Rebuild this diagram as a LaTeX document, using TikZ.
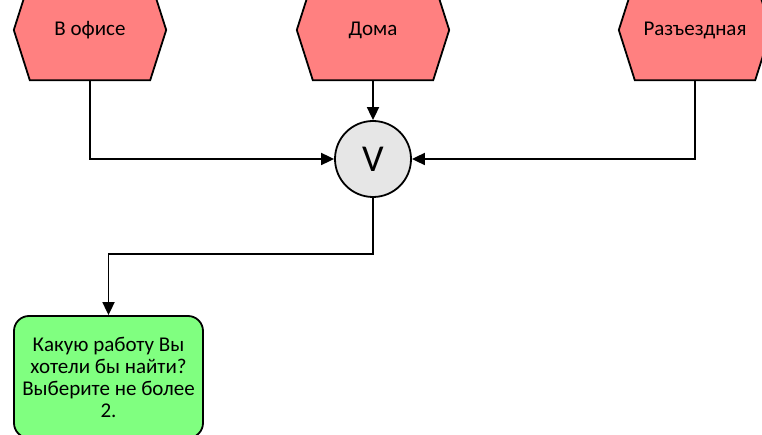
\documentclass[tikz,border=0pt]{standalone}
\usepackage{fontspec}
\setmainfont{Carlito}
\usetikzlibrary{arrows.meta,calc,backgrounds}
\definecolor{hexred}{RGB}{255,128,128}
\definecolor{opgray}{RGB}{230,230,230}
\definecolor{qgreen}{RGB}{128,255,128}
\newcommand{\hexoutline}[1]{%
  \begin{scope}[on background layer]
    \draw[hexline] (#1.north west) -- (#1.north east) -- ($(#1.east)+(16,0)$) --
      (#1.south east) -- (#1.south west) -- ($(#1.west)+(-16,0)$) -- cycle;
  \end{scope}}
\begin{document}
\begin{tikzpicture}[x=1pt,y=-1pt,
  hexbox/.style={rectangle,inner sep=0pt,minimum width=120pt,minimum height=100pt,
    font=\fontsize{21}{22}\selectfont},
  hexline/.style={draw=black,line width=1.8pt,fill=hexred,line join=miter},
  opnode/.style={circle,draw=black,line width=1.8pt,fill=opgray,minimum size=76pt,inner sep=0pt,
    font=\fontsize{38}{40}\selectfont},
  qbox/.style={rectangle,rounded corners=15pt,draw=black,line width=1.8pt,fill=qgreen,
    minimum width=189pt,minimum height=122pt,inner sep=0pt,align=center,
    font=\fontsize{21}{22}\selectfont},
  arr/.style={line width=1.8pt,-{Triangle[length=13pt,width=12pt]}}]
\useasboundingbox (0,0) rectangle (762,435);
\clip (0,0) rectangle (762,435);
\node[hexbox] (h1) at (90,30) {\raisebox{-1pt}{В офисе}};
\hexoutline{h1}
\node[hexbox] (h2) at (373,30) {\raisebox{-1pt}{Дома}};
\hexoutline{h2}
\node[hexbox] (h3) at (695,30) {\raisebox{-1pt}{Разъездная}};
\hexoutline{h3}
\node[opnode] (v) at (373,159) {V};
\node[qbox] (q) at (108.5,377) {Какую работу Вы\\хотели бы найти?\\Выберите не более\\2.};
\draw[arr] (h1.south) |- (v.west);
\draw[arr] (h2.south) -- (v.north);
\draw[arr] (h3.south) |- (v.east);
\draw[arr] (v.south) -- ++(0,56) coordinate (bend) -| (q.north);
\end{tikzpicture}
\end{document}
